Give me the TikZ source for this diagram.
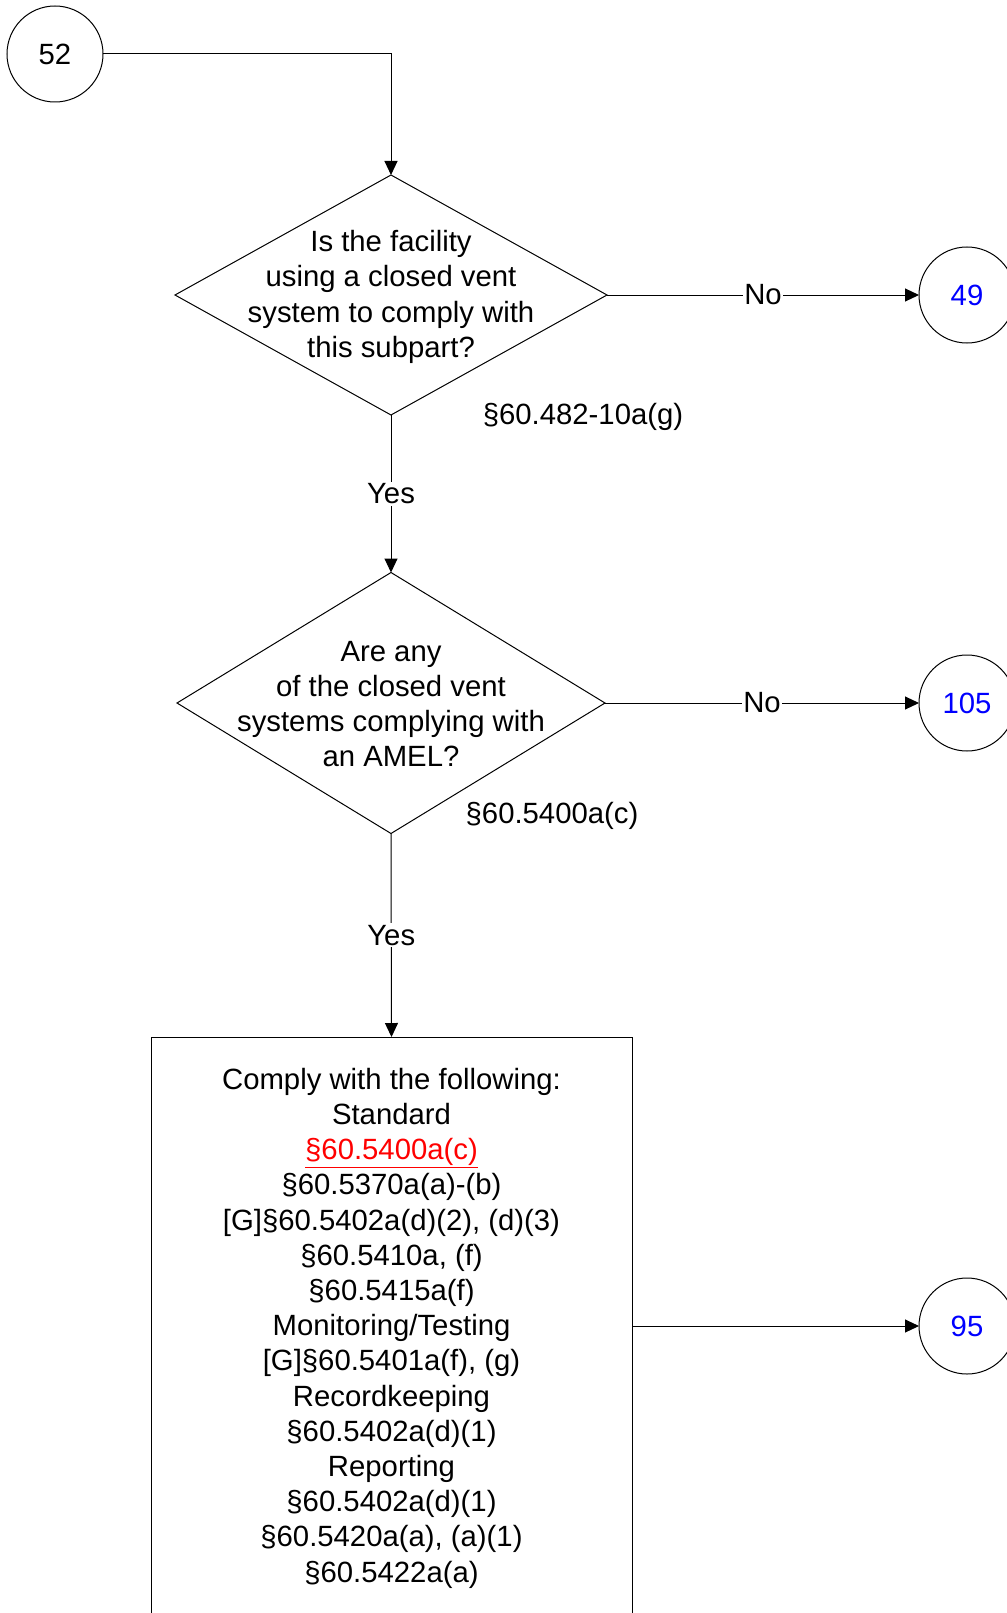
\documentclass[tikz,border=0pt]{standalone}
\usepackage{fontspec}
\setmainfont{Liberation Sans}
\usepackage{xcolor}
\usepackage{tikz}
\usetikzlibrary{positioning, arrows.meta, shapes.geometric}
\definecolor{refblue}{HTML}{0000FF}
\definecolor{refred}{HTML}{FF0000}

\begin{document}
\begin{tikzpicture}[x=1pt, y=-1pt, font=\fontsize{29.3}{35.2}\selectfont,
    every node/.style={inner sep=0pt, outer sep=0pt},
    conn/.style={-{Triangle[length=14pt, width=13pt]}, line width=1pt},
    refcircle/.style={circle, draw, line width=1pt, minimum size=96pt},
    query/.style={diamond, draw, line width=1pt},
    answer/.style={fill=white, inner xsep=1pt, inner ysep=2pt}]
    \useasboundingbox (0,0) rectangle (1006,1613);
    \fill[white] (0,0) rectangle (1006,1613);

    % off-page connectors
    \node[refcircle] (c52) at (55,54) {52};
    \node[refcircle, text=refblue] (c49) at (967,295) {49};
    \node[refcircle, text=refblue] (c105) at (967,703) {105};
    \node[refcircle, text=refblue] (c95) at (967,1326) {95};

    % questions
    \node[query, minimum width=432pt, minimum height=240pt] (q1) at (391,295) {};
    \node[align=center, yshift=-2pt] (q1text) at (q1) {Is the facility\\using a closed vent\\system to comply with\\this subpart?};
    \node (cite1) at (583,417) {§60.482-10a(g)};

    \node[query, minimum width=428pt, minimum height=261pt] (q2) at (391,703) {};
    \node[align=center, yshift=-1pt] (q2text) at (q2) {Are any\\of the closed vent\\systems complying with\\an AMEL?};
    \node (cite2) at (552,816) {§60.5400a(c)};

    % requirements
    \node[draw, line width=1pt, minimum width=481pt, minimum height=578pt] (comply) at (391.5,1326) {};
    \node[align=center, yshift=-2pt] (complytext) at (comply) {%
      Comply with the following:\\
      Standard\\
      {\color{refred}\underline{§60.5400a(c)}}\\
      §60.5370a(a)-(b)\\
      {[G]}§60.5402a(d)(2), (d)(3)\\
      §60.5410a, (f)\\
      §60.5415a(f)\\
      Monitoring/Testing\\
      {[G]}§60.5401a(f), (g)\\
      Recordkeeping\\
      §60.5402a(d)(1)\\
      Reporting\\
      §60.5402a(d)(1)\\
      §60.5420a(a), (a)(1)\\
      §60.5422a(a)};

    \draw[conn] (c52.east) -| (q1.north);
    \draw[conn] (q1.east) -- node[answer] {No} (c49.west);
    \draw[conn] (q1.south) -- node[answer] {Yes} (q2.north);
    \draw[conn] (q2.east) -- node[answer] {No} (c105.west);
    \draw[conn] (q2.south) -- node[answer] {Yes} (comply.north);
    \draw[conn] (comply.east) -- (c95.west);
\end{tikzpicture}
\end{document}
